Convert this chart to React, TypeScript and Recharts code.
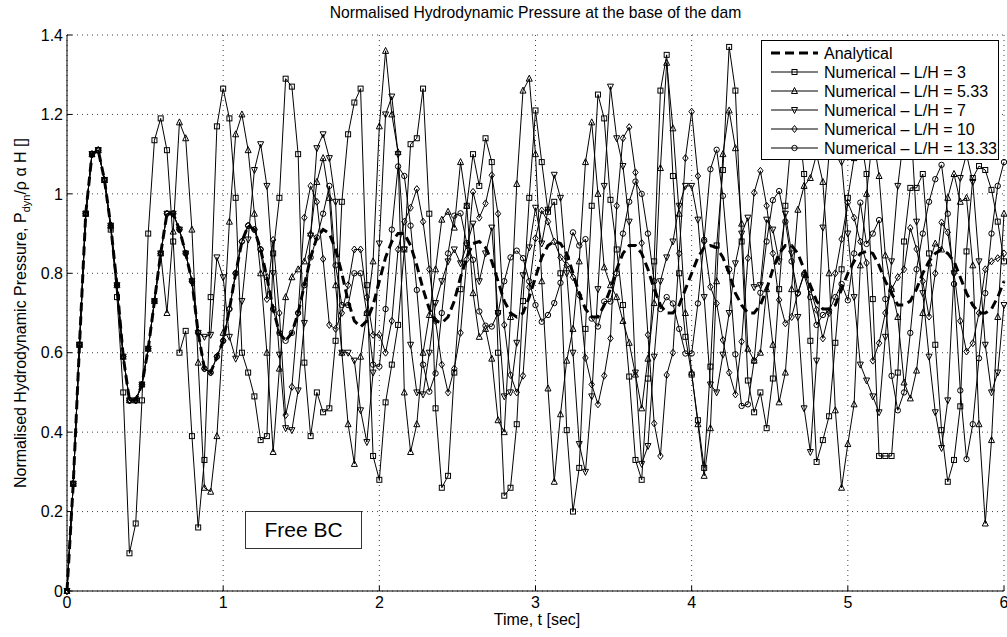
import React from "react";
import { CartesianGrid, Line, LineChart, XAxis, YAxis } from "recharts";

// sampling step of the exported results [sec]
const dt = 0.04;

const xTicks = [0, 1, 2, 3, 4, 5, 6];
const yTicks = [0, 0.2, 0.4, 0.6, 0.8, 1, 1.2, 1.4];

const analytical = [
  0, 0.27, 0.62, 0.95, 1.10, 1.11, 1.035, 0.92, 0.77, 0.59, 0.48, 0.48, 0.52, 0.61, 0.73, 0.85, 0.95, 0.95, 0.91, 0.85, 0.78, 0.65, 0.56, 0.55, 0.59,
  0.63, 0.71, 0.80, 0.88, 0.92, 0.91, 0.86, 0.79, 0.71, 0.65, 0.63, 0.65, 0.70, 0.77, 0.84, 0.89, 0.91, 0.90, 0.86, 0.80, 0.73, 0.68, 0.665, 0.68, 0.72,
  0.78, 0.84, 0.88, 0.90, 0.90, 0.87, 0.82, 0.76, 0.71, 0.68, 0.675, 0.69, 0.73, 0.79, 0.84, 0.875, 0.88, 0.865, 0.83, 0.78, 0.73, 0.70, 0.69, 0.70, 0.74,
  0.79, 0.84, 0.87, 0.88, 0.875, 0.85, 0.80, 0.75, 0.71, 0.69, 0.69, 0.72, 0.76, 0.81, 0.85, 0.87, 0.87, 0.85, 0.81, 0.76, 0.72, 0.70, 0.70, 0.72, 0.76,
  0.80, 0.84, 0.865, 0.87, 0.865, 0.84, 0.80, 0.75, 0.72, 0.70, 0.70, 0.72, 0.76, 0.81, 0.85, 0.87, 0.87, 0.85, 0.81, 0.77, 0.73, 0.71, 0.71, 0.72, 0.76,
  0.80, 0.83, 0.85, 0.855, 0.85, 0.82, 0.78, 0.75, 0.72, 0.72, 0.73, 0.76, 0.80, 0.83, 0.85, 0.86, 0.85, 0.83, 0.79, 0.75, 0.72, 0.70, 0.70, 0.71, 0.74,
  0.78,
];

// L/H = 3
const lh3 = [
  0, 0.27, 0.62, 0.95, 1.10, 1.11, 1.035, 0.91, 0.74, 0.50, 0.095, 0.17, 0.48, 0.90, 1.135, 1.19, 1.11, 0.88, 0.60, 0.655, 0.39, 0.16, 0.33, 0.74, 1.17,
  1.265, 1.19, 0.99, 0.60, 0.55, 0.49, 0.38, 0.39, 0.85, 0.99, 1.29, 1.27, 1.10, 0.575, 0.39, 0.50, 0.45, 0.46, 0.63, 0.98, 1.15, 1.23, 1.265, 0.77, 0.34,
  0.28, 0.475, 0.57, 0.67, 0.86, 1.125, 1.14, 1.265, 0.95, 0.46, 0.26, 0.29, 0.55, 0.76, 0.97, 1.10, 1.02, 1.14, 1.08, 0.60, 0.24, 0.26, 0.42, 0.73, 0.99,
  1.21, 1.08, 0.955, 0.98, 0.80, 0.405, 0.20, 0.31, 0.66, 0.97, 1.25, 1.19, 0.985, 0.86, 0.72, 0.54, 0.33, 0.28, 0.535, 0.83, 1.26, 1.35, 1.045, 0.80, 0.64,
  0.545, 0.43, 0.31, 0.565, 0.87, 1.06, 1.37, 1.26, 0.88, 0.53, 0.45, 0.50, 0.41, 0.535, 0.76, 0.97, 1.15, 1.20, 1.05, 0.63, 0.325, 0.38, 0.44, 0.625, 0.81,
  0.99, 1.09, 1.15, 1.05, 0.735, 0.34, 0.34, 0.34, 0.55, 0.88, 1.015, 1.015, 1.05, 0.85, 0.62, 0.405, 0.275, 0.33, 0.465, 0.855, 1.04, 1.07, 1.06, 1.01, 0.93,
  0.83,
];

// L/H = 5.33
const lh533 = [
  0, 0.27, 0.62, 0.95, 1.10, 1.11, 1.035, 0.92, 0.77, 0.59, 0.48, 0.48, 0.52, 0.61, 0.73, 0.85, 0.70, 0.905, 1.18, 1.14, 0.91, 0.575, 0.26, 0.25, 0.39,
  0.65, 0.93, 1.15, 1.20, 1.11, 0.95, 0.80, 0.60, 0.35, 0.56, 0.74, 0.79, 0.81, 0.83, 0.90, 1.03, 1.09, 0.99, 0.77, 0.60, 0.42, 0.32, 0.59, 0.70, 0.83,
  1.17, 1.36, 1.20, 1.105, 0.50, 0.35, 0.42, 0.60, 0.695, 0.81, 0.935, 0.955, 0.915, 1.08, 0.97, 0.75, 0.64, 0.66, 0.585, 0.43, 0.40, 0.69, 1.025, 1.26, 1.29,
  1.10, 0.78, 0.51, 0.275, 0.445, 0.58, 0.66, 0.83, 1.08, 1.18, 1.00, 0.815, 0.77, 0.74, 0.68, 0.625, 0.545, 0.46, 0.585, 0.725, 1.065, 1.33, 1.165, 0.95, 0.70,
  0.55, 0.42, 0.29, 0.41, 0.78, 1.10, 1.21, 1.115, 0.925, 0.61, 0.58, 0.60, 0.76, 0.62, 0.475, 0.55, 0.76, 0.96, 1.02, 1.04, 1.10, 1.03, 0.80, 0.455, 0.26,
  0.37, 0.47, 0.82, 1.00, 1.15, 1.045, 0.845, 0.76, 0.69, 0.525, 0.485, 0.555, 0.70, 0.825, 0.875, 0.86, 0.99, 1.05, 0.98, 0.99, 0.82, 0.42, 0.17, 0.38, 0.69,
  0.95,
];

// L/H = 7
const lh7 = [
  0, 0.27, 0.62, 0.95, 1.10, 1.11, 1.035, 0.92, 0.77, 0.59, 0.48, 0.48, 0.52, 0.61, 0.73, 0.85, 0.95, 0.95, 0.91, 0.85, 0.78, 0.65, 0.64, 0.645, 0.84,
  0.79, 0.64, 0.585, 0.73, 0.885, 1.06, 1.125, 1.02, 0.80, 0.595, 0.41, 0.405, 0.505, 0.675, 0.895, 1.115, 1.15, 1.09, 0.98, 0.60, 0.60, 0.58, 0.455, 0.375, 0.55,
  0.875, 1.20, 1.245, 1.10, 0.86, 0.62, 0.50, 0.495, 0.60, 0.725, 0.78, 0.83, 0.86, 0.825, 0.87, 0.925, 0.78, 0.85, 0.915, 0.70, 0.49, 0.50, 0.625, 0.795, 0.865,
  0.965, 0.875, 0.96, 1.048, 0.99, 0.80, 0.60, 0.37, 0.30, 0.49, 0.76, 1.02, 1.27, 1.14, 1.07, 0.93, 0.55, 0.32, 0.365, 0.59, 0.78, 0.84, 0.88, 0.97, 1.02,
  1.02, 0.935, 0.74, 0.52, 0.50, 0.595, 0.70, 0.825, 0.90, 0.94, 0.765, 0.77, 0.935, 0.91, 0.83, 0.95, 0.85, 0.69, 0.46, 0.35, 0.58, 0.915, 1.10, 1.15, 1.08,
  0.90, 0.74, 0.57, 0.53, 0.49, 0.45, 0.64, 0.83, 1.02, 1.15, 1.20, 0.93, 0.75, 0.59, 0.45, 0.36, 0.48, 0.80, 1.04, 1.10, 1.03, 0.83, 0.62, 0.50, 0.55,
  0.72,
];

// L/H = 10
const lh10 = [
  0, 0.27, 0.62, 0.95, 1.10, 1.11, 1.035, 0.92, 0.77, 0.59, 0.48, 0.48, 0.52, 0.61, 0.73, 0.85, 0.95, 0.95, 0.91, 0.85, 0.78, 0.65, 0.56, 0.55, 0.59,
  0.63, 0.71, 0.80, 0.88, 0.92, 0.91, 0.86, 0.735, 0.884, 0.70, 0.443, 0.514, 0.70, 0.94, 1.02, 0.98, 0.836, 0.67, 0.66, 0.70, 0.77, 0.86, 0.86, 0.74, 0.645,
  0.645, 0.60, 0.68, 0.86, 0.93, 0.965, 1.012, 0.93, 0.81, 0.68, 0.57, 0.50, 0.56, 0.65, 0.835, 1.005, 0.94, 0.976, 1.047, 0.95, 0.67, 0.544, 0.50, 0.542, 0.765,
  0.888, 0.958, 0.93, 0.88, 0.84, 0.82, 0.79, 0.745, 0.587, 0.52, 0.47, 0.542, 0.636, 0.97, 1.14, 1.168, 1.054, 0.876, 0.645, 0.422, 0.34, 0.544, 0.60, 0.85, 1.09,
  1.207, 1.045, 0.88, 0.766, 0.724, 0.632, 0.55, 0.495, 0.628, 0.838, 1.003, 1.058, 0.97, 0.85, 0.733, 0.674, 0.69, 0.75, 0.80, 0.76, 0.708, 0.636, 0.70, 0.80, 0.886,
  0.978, 0.94, 0.88, 0.826, 0.58, 0.624, 0.70, 0.76, 0.79, 0.81, 0.914, 0.861, 0.78, 0.691, 0.80, 0.928, 0.903, 0.80, 0.68, 0.603, 0.624, 0.70, 0.81, 0.83, 0.838,
  0.85,
];

// L/H = 13.33
const lh1333 = [
  0, 0.27, 0.62, 0.95, 1.10, 1.11, 1.035, 0.92, 0.77, 0.59, 0.48, 0.48, 0.52, 0.61, 0.73, 0.85, 0.95, 0.95, 0.91, 0.85, 0.78, 0.65, 0.56, 0.55, 0.59,
  0.63, 0.71, 0.80, 0.88, 0.92, 0.91, 0.86, 0.79, 0.71, 0.65, 0.63, 0.65, 0.70, 0.77, 0.84, 0.89, 0.95, 1.02, 0.82, 0.72, 0.72, 0.80, 0.80, 0.70, 0.57,
  0.565, 0.71, 0.91, 1.069, 1.045, 0.92, 0.758, 0.57, 0.502, 0.548, 0.70, 0.85, 0.945, 0.951, 0.876, 0.834, 0.704, 0.668, 0.666, 0.70, 0.78, 0.84, 0.857, 0.838, 0.78,
  0.72, 0.678, 0.695, 0.725, 0.776, 0.84, 0.903, 0.87, 0.886, 0.686, 0.666, 0.729, 0.729, 0.80, 0.90, 0.98, 1.031, 1.00, 0.90, 0.78, 0.71, 0.74, 0.724, 0.66, 0.598,
  0.598, 0.724, 0.884, 1.062, 1.111, 0.995, 0.81, 0.596, 0.466, 0.47, 0.58, 0.751, 0.88, 0.984, 1.007, 0.93, 0.83, 0.75, 0.796, 0.74, 0.67, 0.695, 0.706, 0.74, 0.773,
  0.732, 0.85, 0.978, 0.874, 0.90, 0.934, 0.735, 0.542, 0.455, 0.50, 0.65, 0.81, 0.90, 0.98, 1.037, 1.073, 0.95, 0.773, 0.505, 0.332, 0.42, 0.586, 0.75, 0.90, 1.02,
  1.08,
];

const data = analytical.map((a, i) => ({
  t: i * dt,
  analytical: a,
  lh3: lh3[i],
  lh533: lh533[i],
  lh7: lh7[i],
  lh10: lh10[i],
  lh1333: lh1333[i],
}));

const FONT = '"Liberation Sans", Arial, Helvetica, sans-serif';

type Shape = "square" | "up" | "down" | "diamond" | "circle";

const Marker = ({ shape, cx, cy }: { shape: Shape; cx: number; cy: number }) => {
  const common = { fill: "none", stroke: "#000", strokeWidth: 1 };
  if (shape === "square") return <rect x={cx - 2.5} y={cy - 2.5} width={5} height={5} {...common} />;
  if (shape === "circle") return <circle cx={cx} cy={cy} r={2.7} {...common} />;
  if (shape === "up")
    return <polygon points={`${cx},${cy - 3.5} ${cx - 3},${cy + 2.5} ${cx + 3},${cy + 2.5}`} {...common} />;
  if (shape === "down")
    return <polygon points={`${cx},${cy + 3.5} ${cx - 3},${cy - 2.5} ${cx + 3},${cy - 2.5}`} {...common} />;
  return <polygon points={`${cx},${cy - 3.5} ${cx + 2.7},${cy} ${cx},${cy + 3.5} ${cx - 2.7},${cy}`} {...common} />;
};

const makeDot = (shape: Shape) => (p: any) => {
  if (p.cx == null || p.cy == null) return <g key={`${shape}-${p.index}`} />;
  return (
    <g key={`${shape}-${p.index}`}>
      <Marker shape={shape} cx={p.cx} cy={p.cy} />
    </g>
  );
};

const series: { key: string; name: string; shape: Shape }[] = [
  { key: "lh3", name: "Numerical \u2013 L/H = 3", shape: "square" },
  { key: "lh533", name: "Numerical \u2013 L/H = 5.33", shape: "up" },
  { key: "lh7", name: "Numerical \u2013 L/H = 7", shape: "down" },
  { key: "lh10", name: "Numerical \u2013 L/H = 10", shape: "diamond" },
  { key: "lh1333", name: "Numerical \u2013 L/H = 13.33", shape: "circle" },
];

const LegendBox = () => (
  <svg
    width={238}
    height={120}
    style={{ position: "absolute", left: 761, top: 40 }}
    fontFamily={FONT}
  >
    <rect x={0.5} y={0.5} width={237} height={119} fill="#fff" stroke="#000" strokeWidth={1} />
    <line x1={10} x2={57} y1={13} y2={13} stroke="#000" strokeWidth={3} strokeDasharray="9 5" />
    <text x={63} y={19} fontSize={16}>Analytical</text>
    {series.map((s, i) => {
      const y = 32 + i * 19;
      return (
        <g key={s.key}>
          <line x1={10} x2={57} y1={y} y2={y} stroke="#000" strokeWidth={1} />
          <Marker shape={s.shape} cx={33.5} cy={y} />
          <text x={63} y={y + 6} fontSize={16}>{s.name}</text>
        </g>
      );
    })}
  </svg>
);

const App = () => {
  return (
    <div style={{ position: "absolute", left: 0, top: 0, width: 1007, height: 637, background: "#fff", fontFamily: FONT }}>
      <LineChart
        width={1007}
        height={637}
        data={data}
        margin={{ top: 35, right: 3, left: 0, bottom: 0 }}
      >
        <CartesianGrid stroke="#000" strokeOpacity={0.75} strokeDasharray="1 4" />
        <XAxis
          dataKey="t"
          type="number"
          domain={[0, 6]}
          ticks={xTicks}
          height={46}
          stroke="#000"
          tickSize={-5}
          tickMargin={11}
          tick={{ fill: "#000", fontSize: 16, fontFamily: FONT }}
          interval={0}
        />
        <XAxis
          xAxisId="top"
          orientation="top"
          dataKey="t"
          type="number"
          domain={[0, 6]}
          ticks={xTicks}
          height={0}
          stroke="#000"
          tickSize={-5}
          tick={false}
        />
        <YAxis
          type="number"
          domain={[0, 1.4]}
          ticks={yTicks}
          width={67}
          stroke="#000"
          tickSize={-5}
          tickMargin={9}
          interval={0}
          tickFormatter={(v: number) => String(Number(v.toFixed(1)))}
          tick={{ fill: "#000", fontSize: 16, fontFamily: FONT }}
        />
        <YAxis
          yAxisId="right"
          orientation="right"
          type="number"
          domain={[0, 1.4]}
          ticks={yTicks}
          width={0}
          stroke="#000"
          tickSize={-5}
          tick={false}
        />
        <Line
          dataKey="analytical"
          stroke="#000"
          strokeWidth={3}
          strokeDasharray="9 5"
          dot={false}
          activeDot={false}
          isAnimationActive={false}
        />
        {series.map((s) => (
          <Line
            key={s.key}
            dataKey={s.key}
            name={s.name}
            stroke="#000"
            strokeWidth={1}
            dot={makeDot(s.shape)}
            activeDot={false}
            isAnimationActive={false}
          />
        ))}
      </LineChart>

      <div
        style={{
          position: "absolute",
          left: 0,
          top: 4,
          width: 1071,
          textAlign: "center",
          fontSize: 15.7,
          color: "#000",
          whiteSpace: "nowrap",
        }}
      >
        Normalised Hydrodynamic Pressure at the base of the dam
      </div>

      <div
        style={{
          position: "absolute",
          left: 0,
          top: 611,
          width: 1074,
          textAlign: "center",
          fontSize: 16,
          color: "#000",
        }}
      >
        Time, t [sec]
      </div>

      <svg width={40} height={637} style={{ position: "absolute", left: 0, top: 0 }} fontFamily={FONT}>
        <text transform="translate(26,313) rotate(-90)" textAnchor="middle" fontSize={16} fill="#000">
          {"Normalised Hydrodynamic Pressure, P"}
          <tspan fontSize={11} dy={4}>dyn</tspan>
          <tspan dy={-4}>{"/\u03c1 \u03b1 H []"}</tspan>
        </text>
      </svg>

      <LegendBox />

      <div
        style={{
          position: "absolute",
          left: 245,
          top: 511,
          width: 115,
          height: 36,
          border: "1px solid #333",
          background: "#fff",
          fontSize: 21,
          lineHeight: "36px",
          textAlign: "center",
          color: "#000",
        }}
      >
        Free BC
      </div>
    </div>
  );
};

export default App;
